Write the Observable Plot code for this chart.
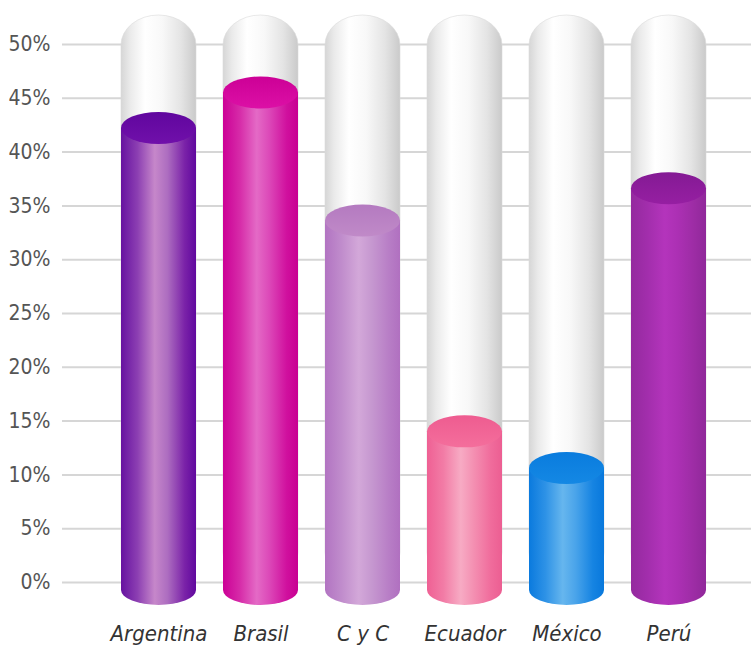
<!DOCTYPE html>
<html>
<head>
<meta charset="utf-8">
<script src="https://cdn.jsdelivr.net/npm/d3@7"></script>
<script src="https://cdn.jsdelivr.net/npm/@observablehq/plot@0.6"></script>
<style>
  html, body { margin: 0; padding: 0; background: #fff; }
  #chart svg { display: block; }
</style>
</head>
<body>
<div id="chart"></div>
<script>
// ---- data ----
const countries = ["Argentina", "Brasil", "C y C", "Ecuador", "México", "Perú"];
const values = [42.2, 45.5, 33.6, 14.0, 10.6, 36.6];
const yTicks = [0, 5, 10, 15, 20, 25, 30, 35, 40, 45, 50];

// ---- styles (palette per country: edge, highlight, top face) ----
const palette = [
  {stops: [["0%", "#6612a0"], ["22%", "#8c3fb2"], ["45%", "#c687ca"], ["62%", "#ad6dc0"], ["85%", "#7a22a8"], ["100%", "#60089e"]], top: ["#7010aa", "#60069e"]},
  {stops: [["0%", "#cc0096"], ["22%", "#d62aa8"], ["45%", "#e46ac6"], ["62%", "#dc48b8"], ["85%", "#d0109e"], ["100%", "#c80092"]], top: ["#dc10a6", "#cc0096"]},
  {stops: [["0%", "#b274c2"], ["22%", "#c08ccc"], ["45%", "#d3a8d9"], ["62%", "#c698d0"], ["85%", "#b87ec6"], ["100%", "#b070c0"]], top: ["#c08ac8", "#b47ac0"]},
  {stops: [["0%", "#ef6094"], ["22%", "#f27ca6"], ["45%", "#f7abc4"], ["62%", "#f490b2"], ["85%", "#f06c9c"], ["100%", "#ec5e92"]], top: ["#f46e9c", "#ee5c90"]},
  {stops: [["0%", "#0a7ade"], ["22%", "#2e92e6"], ["45%", "#66b6ee"], ["62%", "#4aa4ea"], ["85%", "#1684e2"], ["100%", "#0878dc"]], top: ["#1488e4", "#0a7cde"]},
  {stops: [["0%", "#942a9e"], ["22%", "#a22eac"], ["45%", "#b434bc"], ["62%", "#ac30b4"], ["85%", "#9c2ca4"], ["100%", "#90289a"]], top: ["#961fa2", "#841a94"]}
];
const glassStops = [["0%", "#d6d6d6"], ["12%", "#eaeaea"], ["32%", "#ffffff"], ["55%", "#f8f8f8"], ["80%", "#e4e4e4"], ["100%", "#cacaca"]];

const table = countries.map((country, i) => ({country, i, value: values[i]}));

const NS = "http://www.w3.org/2000/svg";
function gradient(id, stops, vertical) {
  const g = document.createElementNS(NS, "linearGradient");
  g.setAttribute("id", id);
  g.setAttribute("x1", "0"); g.setAttribute("y1", "0");
  g.setAttribute("x2", vertical ? "0" : "1"); g.setAttribute("y2", vertical ? "1" : "0");
  for (const [off, col] of stops) {
    const s = document.createElementNS(NS, "stop");
    s.setAttribute("offset", off);
    s.setAttribute("stop-color", col);
    g.appendChild(s);
  }
  return g;
}
function defsMark() {
  const defs = document.createElementNS(NS, "defs");
  defs.appendChild(gradient("glass", glassStops, false));
  palette.forEach((p, i) => {
    defs.appendChild(gradient(`body${i}`, p.stops, false));
    defs.appendChild(gradient(`top${i}`, [["0%", p.top[1]], ["100%", p.top[0]]], true));
  });
  return defs;
}

const font = `"Liberation Sans Narrow", "DejaVu Sans Condensed", "Open Sans", sans-serif`;

const chart = Plot.plot({
  width: 751,
  height: 645,
  marginTop: 0,
  marginBottom: 30,
  marginLeft: 62,
  marginRight: 0,
  style: {fontFamily: font, background: "#fff"},
  x: {type: "band", domain: countries, range: [92.6, 734.4], padding: 0.268},
  y: {domain: [0, 50], range: [582, 44]},
  color: {type: "identity"},
  marks: [
    defsMark,
    Plot.ruleY(yTicks, {stroke: "#d6d6d6", strokeWidth: 2}),
    // glass tubes
    Plot.barY(table, {x: "country", y1: 0, y2: d3.max(yTicks), insetTop: -29, rx: 37.5, ry: 30,
      fill: "url(#glass)", stroke: "#dadada", strokeWidth: 0.6}),
    // cylinder bodies
    Plot.barY(table, {x: "country", y1: 0, y2: "value", insetBottom: -8,
      fill: d => `url(#body${d.i})`}),
    // bottom caps
    Plot.barY(table, {x: "country", y1: 0, y2: 0, insetTop: -7, insetBottom: -23, rx: 37.5, ry: 15,
      fill: d => `url(#body${d.i})`}),
    // top faces
    Plot.barY(table, {x: "country", y1: "value", y2: "value", insetTop: -16, insetBottom: -16, rx: 37.5, ry: 16,
      fill: d => `url(#top${d.i})`}),
    Plot.axisY({ticks: yTicks, tickFormat: d => `${d}%`, tickSize: 0, tickPadding: 12,
      fontSize: 21, fill: "#555", label: null}),
    Plot.axisX({tickSize: 0, tickPadding: 10, fontSize: 22, fontStyle: "italic", fill: "#333", label: null})
  ]
});
document.getElementById("chart").appendChild(chart);
</script>
</body>
</html>
